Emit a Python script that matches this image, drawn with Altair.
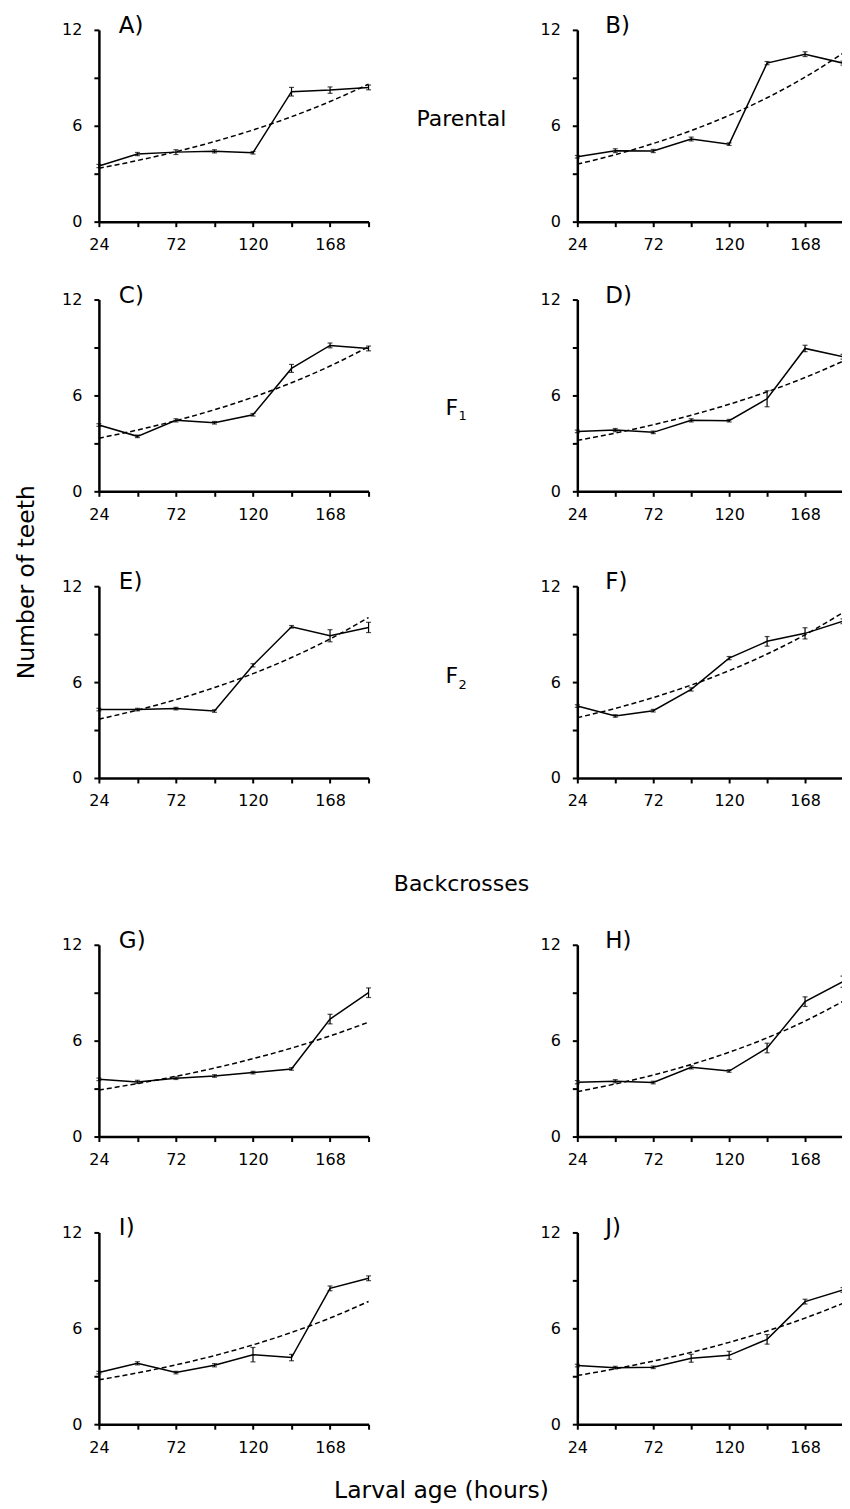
import altair as alt
import pandas as pd

hours = [24, 48, 72, 96, 120, 144, 168, 192]
panel_ids = ["A", "B", "C", "D", "E", "F", "G", "H", "I", "J"]

teeth = {
    "A": [3.48, 4.23, 4.35, 4.40, 4.31, 8.13, 8.23, 8.40],
    "B": [4.06, 4.44, 4.42, 5.17, 4.85, 9.92, 10.48, 9.92],
    "C": [4.15, 3.44, 4.44, 4.29, 4.79, 7.69, 9.13, 8.94],
    "D": [3.75, 3.83, 3.69, 4.44, 4.42, 5.79, 8.94, 8.42],
    "E": [4.28, 4.28, 4.34, 4.19, 7.05, 9.46, 8.90, 9.42],
    "F": [4.50, 3.88, 4.21, 5.54, 7.50, 8.55, 9.05, 9.81],
    "G": [3.58, 3.42, 3.65, 3.79, 4.00, 4.23, 7.35, 9.00],
    "H": [3.40, 3.46, 3.38, 4.33, 4.10, 5.54, 8.44, 9.69],
    "I": [3.23, 3.81, 3.23, 3.69, 4.35, 4.17, 8.50, 9.13],
    "J": [3.67, 3.54, 3.56, 4.13, 4.31, 5.31, 7.67, 8.40],
}
errors = {
    "A": [0.10, 0.10, 0.15, 0.10, 0.08, 0.27, 0.20, 0.15],
    "B": [0.08, 0.12, 0.10, 0.12, 0.08, 0.10, 0.15, 0.12],
    "C": [0.08, 0.08, 0.10, 0.08, 0.08, 0.25, 0.15, 0.15],
    "D": [0.08, 0.10, 0.08, 0.10, 0.08, 0.50, 0.20, 0.15],
    "E": [0.08, 0.08, 0.08, 0.08, 0.10, 0.08, 0.38, 0.32],
    "F": [0.08, 0.08, 0.08, 0.10, 0.10, 0.30, 0.35, 0.15],
    "G": [0.08, 0.10, 0.08, 0.08, 0.08, 0.08, 0.30, 0.30],
    "H": [0.10, 0.10, 0.08, 0.10, 0.08, 0.30, 0.30, 0.35],
    "I": [0.08, 0.10, 0.08, 0.10, 0.45, 0.20, 0.15, 0.15],
    "J": [0.08, 0.08, 0.08, 0.25, 0.25, 0.30, 0.15, 0.15],
}

x_ticks = [24, 48, 72, 96, 120, 144, 168, 192]
y_ticks = [0, 3, 6, 9, 12]

FONT = "DejaVu Sans"
WL, WR, H = 270, 266, 192

rows = []
for p in panel_ids:
    for h, t, e in zip(hours, teeth[p], errors[p]):
        rows.append({"panel": p, "hours": h, "teeth": t, "err": e})
df = pd.DataFrame(rows)

xenc = alt.X("hours:Q", title=None,
             scale=alt.Scale(domain=[24, 192], nice=False, zero=False),
             axis=alt.Axis(values=x_ticks, labelFlush=False, labelOverlap=False,
                           labelExpr="(datum.value - 24) % 48 == 0 && datum.value < 192 ? datum.label : ''"))
yscale = alt.Scale(domain=[0, 12], nice=False)
yaxis = alt.Axis(values=y_ticks, labelOverlap=False,
                 labelExpr="datum.value % 6 == 0 ? datum.label : ''")


def Y(field):
    return alt.Y(field, title=None, scale=yscale, axis=yaxis)


def text_layer(txt, x, y, size, align="left", angle=0, baseline="alphabetic"):
    kw = dict(text=txt, font=FONT, fontSize=size, align=align, baseline=baseline, color="black")
    if angle:
        kw["angle"] = angle
    return alt.Chart(pd.DataFrame({"k": [0]})).mark_text(**kw).encode(
        x=alt.value(x), y=alt.value(y))


def panel(p, col):
    base = alt.Chart(df).transform_filter(alt.datum.panel == p)
    line = base.mark_line(color="black", strokeWidth=1.5).encode(x=xenc, y=Y("teeth:Q"))
    # exponential trend line: least-squares fit of log(teeth) on hours
    trend = base.transform_calculate(
        ly="log(datum.teeth)"
    ).transform_joinaggregate(
        mx="mean(hours)", my="mean(ly)"
    ).transform_calculate(
        sxy="(datum.hours - datum.mx) * (datum.ly - datum.my)",
        sxx="(datum.hours - datum.mx) * (datum.hours - datum.mx)",
    ).transform_joinaggregate(
        Sxy="sum(sxy)", Sxx="sum(sxx)"
    ).transform_calculate(
        fit="exp(datum.my + datum.Sxy / datum.Sxx * (datum.hours - datum.mx))"
    ).mark_line(color="black", strokeWidth=1.5, strokeDash=[5, 3],
                interpolate="monotone").encode(x=xenc, y=Y("fit:Q"))
    bars = base.transform_calculate(
        lo="datum.teeth - datum.err", hi="datum.teeth + datum.err"
    )
    rule = bars.mark_rule(color="black", strokeWidth=1.2).encode(
        x=xenc, y=Y("lo:Q"), y2="hi:Q")
    cap_lo = bars.mark_tick(color="black", orient="horizontal", size=5, thickness=1.2).encode(
        x=xenc, y=Y("lo:Q"))
    cap_hi = bars.mark_tick(color="black", orient="horizontal", size=5, thickness=1.2).encode(
        x=xenc, y=Y("hi:Q"))
    label = text_layer(p + ")", 20 if col == 0 else 28, 3, 23)
    layers = [trend, line, rule, cap_lo, cap_hi, label]
    if p == "A":
        layers.append(text_layer("Parental", 363, 96, 22, align="center"))
    if p == "C":
        layers.append(text_layer("F", 347, 116, 22))
        layers.append(text_layer("1", 360, 121, 13))
    if p == "E":
        layers.append(text_layer("F", 347, 97, 22))
        layers.append(text_layer("2", 360, 103, 13))
        layers.append(text_layer("Backcrosses", 363, 305, 22, align="center"))
        layers.append(text_layer("Number of teeth", -72, -4, 23.5, align="center",
                                 angle=270, baseline="middle"))
    if p == "I":
        layers.append(text_layer("Larval age (hours)", 343, 266, 23.5, align="center"))
    return alt.layer(*layers).properties(width=WL if col == 0 else WR, height=H)


def spacer(h, w):
    return alt.Chart(pd.DataFrame({"k": [0]})).mark_text(text="").encode(
        x=alt.value(0), y=alt.value(0)).properties(width=w, height=h)


gaps = [78, 95, 167, 96]
items = []
for i in range(5):
    items.append(panel(panel_ids[2 * i], 0))
    items.append(panel(panel_ids[2 * i + 1], 1))
    if i < 4:
        items.append(spacer(gaps[i], WL))
        items.append(spacer(gaps[i], WR))

chart = alt.concat(*items, columns=2, spacing=alt.RowColnumber(row=0, column=209),
                   bounds="flush").properties(
    padding={"left": 6, "top": 6, "right": -4, "bottom": 0}
).configure_view(stroke=None).configure_axis(
    domainColor="black", domainWidth=2.5, tickColor="black", tickWidth=2,
    tickSize=5, labelFont=FONT, labelFontSize=16, labelColor="black",
    labelPadding=10, grid=False
).configure_axisY(labelPadding=12)

chart.save("out.html", embed_options={"renderer": "svg", "actions": False})
